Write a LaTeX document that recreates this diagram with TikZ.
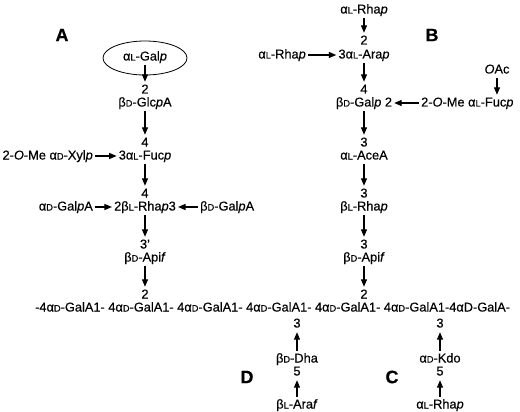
\documentclass[tikz,border=0pt]{standalone}
\usepackage{fontspec}
\setmainfont[FakeBold=0.35]{Liberation Sans}
\usetikzlibrary{arrows.meta}
\newcommand{\smL}{{\fontsize{9.3}{9.3}\selectfont L}}
\newcommand{\smD}{{\fontsize{9.3}{9.3}\selectfont D}}
\tikzset{
  sugar/.style={inner sep=1pt, font=\fontsize{12.8}{15}\selectfont, text height=9.5pt, text depth=2.5pt},
  link/.style={draw=black, line width=1.2pt, shorten <=1pt, shorten >=1pt, -{Triangle[length=7.5pt,width=6pt]}},
  ring/.style={draw=black, line width=0.8pt},
  panel/.style={font=\bfseries\fontsize{18}{18}\selectfont, inner sep=0pt},
}

\begin{document}
\begin{tikzpicture}[x=1pt,y=-1pt]
  \useasboundingbox (0,0) rectangle (520,412);

  % side chain A
  \node[panel] (labA) at (62,35) {A};
  \node[sugar] (galA) at (145,57) {α\smL-Gal\textit{p}};
  \draw[ring] (145,58) ellipse (42 and 17);
  \node[sugar] (a2) at (145,90) {2};
  \node[sugar] (glcA) at (145,103) {β\smD-Glc\textit{p}A};
  \node[sugar] (a4) at (145,143) {4};
  \node[sugar] (fucA) at (145,156) {3α\smL-Fuc\textit{p}};
  \node[sugar,anchor=east] (xyl) at (94,156) {2-\textit{O}-Me α\smD-Xyl\textit{p}};
  \node[sugar] (a4b) at (145,194) {4};
  \node[sugar] (rhaA) at (145,207) {2β\smL-Rha\textit{p}3};
  \node[sugar,anchor=east] (galpA1) at (94,207) {α\smD-Gal\textit{p}A};
  \node[sugar,anchor=west] (galpA2) at (199,207) {β\smD-Gal\textit{p}A};
  \node[sugar] (a3) at (145,245) {3’};
  \node[sugar] (apiA) at (145,258) {β\smD-Api\textit{f}};
  \node[sugar] (a2b) at (145,295) {2};

  \draw[link] (galA) -- (a2);
  \draw[link] (glcA) -- (a4);
  \draw[link] (xyl) -- (fucA);
  \draw[link] (fucA) -- (a4b);
  \draw[link] (galpA1) -- (rhaA);
  \draw[link] (galpA2) -- (rhaA);
  \draw[link] (rhaA) -- (a3);
  \draw[link] (apiA) -- (a2b);

  % side chain B
  \node[panel] (labB) at (432,35) {B};
  \node[sugar] (rhaTop) at (364,10) {α\smL-Rha\textit{p}};
  \node[sugar] (b2) at (364,41) {2};
  \node[sugar] (ara) at (364,55) {3α\smL-Ara\textit{p}};
  \node[sugar,anchor=east] (rhaB1) at (307,55) {α\smL-Rha\textit{p}};
  \node[sugar] (b4) at (364,90) {4};
  \node[sugar] (galB) at (364,103) {β\smD-Gal\textit{p} 2};
  \node[sugar,anchor=west] (fucB) at (420,103) {2-\textit{O}-Me α\smL-Fuc\textit{p}};
  \node[sugar] (oac) at (497,70) {\textit{O}Ac};
  \node[sugar] (b3) at (364,143) {3};
  \node[sugar] (ace) at (364,156) {α\smL-AceA};
  \node[sugar] (b3b) at (364,194) {3};
  \node[sugar] (rhaB2) at (364,207) {β\smL-Rha\textit{p}};
  \node[sugar] (b3c) at (364,245) {3};
  \node[sugar] (apiB) at (364,258) {β\smD-Api\textit{f}};
  \node[sugar] (b2b) at (364,295) {2};

  \draw[link] (rhaTop) -- (b2);
  \draw[link] (rhaB1) -- (ara);
  \draw[link] (ara) -- (b4);
  \draw[link] (fucB) -- (galB);
  \draw[link] (oac) -- (oac |- fucB.north);
  \draw[link] (galB) -- (b3);
  \draw[link] (ace) -- (b3b);
  \draw[link] (rhaB2) -- (b3c);
  \draw[link] (apiB) -- (b2b);

  % backbone
  \node[sugar,anchor=west] (chain) at (34,308)
    {-4α\smD-GalA1- 4α\smD-GalA1- 4α\smD-GalA1- 4α\smD-GalA1- 4α\smD-GalA1- 4α\smD-GalA1-4αD-GalA-};

  % side chains D and C
  \node[panel] (labD) at (247,377) {D};
  \node[sugar] (d3) at (297,324) {3};
  \node[sugar] (dha) at (297,359) {β\smD-Dha};
  \node[sugar] (d5) at (297,372) {5};
  \node[sugar] (araf) at (297,405) {β\smL-Ara\textit{f}};
  \node[panel] (labC) at (392,377) {C};
  \node[sugar] (c3) at (440,324) {3};
  \node[sugar] (kdo) at (440,359) {α\smD-Kdo};
  \node[sugar] (c5) at (440,372) {5};
  \node[sugar] (rhaC) at (440,405) {α\smL-Rha\textit{p}};

  \draw[link] (dha) -- (d3);
  \draw[link] (araf) -- (d5);
  \draw[link] (kdo) -- (c3);
  \draw[link] (rhaC) -- (c5);
\end{tikzpicture}
\end{document}
